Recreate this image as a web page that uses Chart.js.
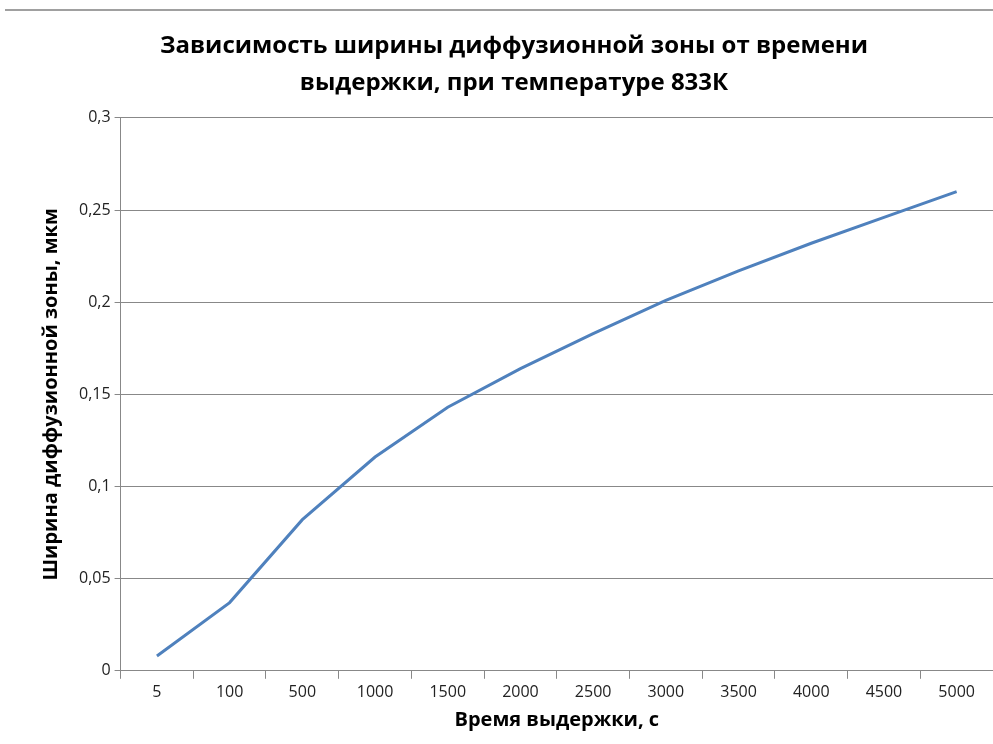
<!DOCTYPE html>
<html>
<head>
<meta charset="utf-8">
<script src="https://cdn.jsdelivr.net/npm/chart.js@4/dist/chart.umd.min.js"></script>
<style>
  body { margin: 0; background: #fff; }
  #wrap { position: relative; width: 993px; height: 744px; }
  #topline { position: absolute; top: 9px; left: 5px; right: 0; height: 2px; background: #a0a0a0; }
</style>
</head>
<body>
<div id="wrap">
  <div id="topline"></div>
  <canvas id="chart" width="993" height="744"></canvas>
</div>
<script>
var times = ['5', '100', '500', '1000', '1500', '2000', '2500', '3000', '3500', '4000', '4500', '5000'];
var widths = [0.008, 0.037, 0.082, 0.116, 0.143, 0.164, 0.183, 0.201, 0.217, 0.232, 0.246, 0.26];

var ctx = document.getElementById('chart');

var chart = new Chart(ctx, {
  type: 'line',
  data: {
    labels: times,
    datasets: [{
      label: 'Ширина диффузионной зоны',
      data: widths,
      borderColor: '#4f81bd',
      borderWidth: 3,
      pointRadius: 0,
      tension: 0,
      fill: false
    }]
  },
  options: {
    responsive: false,
    animation: false,
    layout: { padding: { left: 35, right: 0, top: 18, bottom: 8 } },
    plugins: {
      legend: { display: false },
      tooltip: { enabled: false },
      title: {
        display: true,
        text: ['Зависимость ширины диффузионной зоны от времени', 'выдержки, при температуре 833К'],
        color: '#000',
        font: { family: 'Open Sans', size: 24, weight: 'bold', lineHeight: 1.54 },
        padding: { top: 10, bottom: 16 }
      }
    },
    scales: {
      x: {
        offset: true,
        grid: { offset: true, drawOnChartArea: false, tickLength: 8, color: '#888' },
        border: { color: '#888', width: 1 },
        ticks: { color: '#222', font: { family: 'Open Sans', size: 16 }, padding: 4, maxRotation: 0 },
        title: {
          display: true,
          text: 'Время выдержки, с',
          color: '#000',
          font: { family: 'Open Sans', size: 20, weight: 'bold' },
          padding: { top: 2 }
        }
      },
      y: {
        min: 0,
        max: 0.3,
        ticks: {
          stepSize: 0.05,
          color: '#222',
          font: { family: 'Open Sans', size: 16 },
          padding: 4,
          callback: function(v) {
            return String(parseFloat(v.toFixed(2))).replace('.', ',');
          }
        },
        grid: { color: '#888', tickLength: 6 },
        border: { color: '#888', width: 1 },
        title: {
          display: true,
          text: 'Ширина диффузионной зоны, мкм',
          color: '#000',
          font: { family: 'Open Sans', size: 20, weight: 'bold' },
          padding: { bottom: 12 }
        }
      }
    }
  }
});
</script>
</body>
</html>
